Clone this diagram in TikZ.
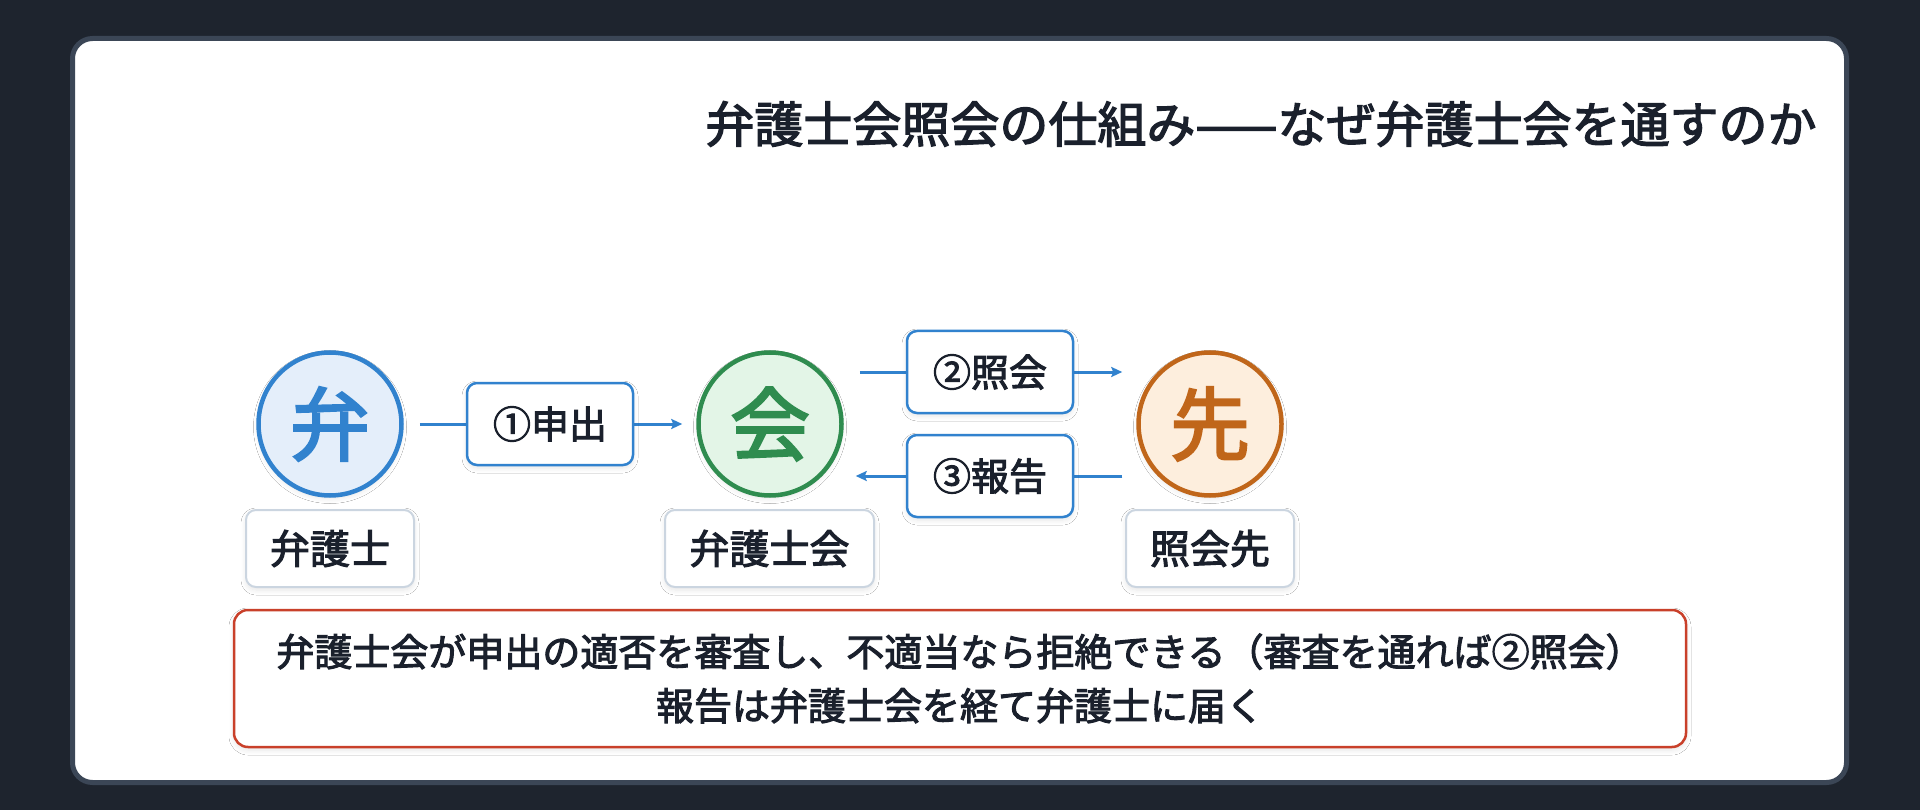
\documentclass[tikz,border=0pt]{standalone}
\usepackage{fontspec}
\setmainfont{Noto Sans CJK JP}[FakeBold=2.6]
\usetikzlibrary{arrows.meta,shadows.blur,calc}
\definecolor{bgdark}{HTML}{1E242E}
\definecolor{cardedge}{HTML}{3B4656}
\definecolor{ink}{HTML}{1A202C}
\definecolor{blueC}{HTML}{3182CE}
\definecolor{blueF}{HTML}{E4EEFA}
\definecolor{greenC}{HTML}{2F8C4F}
\definecolor{greenF}{HTML}{E3F5E7}
\definecolor{orangeC}{HTML}{C0661A}
\definecolor{orangeF}{HTML}{FDEEDD}
\definecolor{grayE}{HTML}{CBD5E0}
\definecolor{redE}{HTML}{C9402A}
\tikzset{
  softshadow/.style={blur shadow={shadow xshift=0pt,shadow yshift=-3pt,shadow blur steps=8,shadow opacity=10,shadow blur radius=5pt}},
  actor/.style={circle,line width=4.5pt,inner sep=0pt,minimum size=143pt,softshadow,
    font=\fontsize{80}{90}\selectfont},
  namebox/.style={draw=grayE,fill=white,line width=2pt,rounded corners=10pt,inner sep=0pt,
    minimum height=77pt,text=ink,font=\fontsize{40}{48}\selectfont,softshadow},
  edgebox/.style={draw=blueC,fill=white,line width=2.5pt,rounded corners=10pt,inner sep=0pt,
    minimum width=166pt,minimum height=82pt,text=ink,font=\fontsize{38}{46}\selectfont,softshadow},
  flow/.style={draw=blueC,line width=3pt,-{Stealth[length=11pt,width=10pt,inset=2pt]}},
}
\begin{document}
\begin{tikzpicture}[x=1pt,y=-1pt]
\useasboundingbox (0,0) rectangle (1920,810);
\fill[bgdark] (0,0) rectangle (1920,810);
\draw[cardedge,fill=white,line width=5pt,rounded corners=20pt] (72.5,38.5) rectangle (1846.5,782.5);

\node[anchor=center,text=ink,font=\fontsize{49}{58}\selectfont] (title) at (1261,124)
  {弁護士会照会の仕組み——なぜ弁護士会を通すのか};

\node[actor,draw=blueC,fill=blueF,text=blueC] (ben) at (330,424) {弁};
\node[actor,draw=greenC,fill=greenF,text=greenC] (kai) at (770,424) {会};
\node[actor,draw=orangeC,fill=orangeF,text=orangeC] (saki) at (1210,424) {先};

\node[namebox,minimum width=168pt] (nben) at (330,548.5) {弁護士};
\node[namebox,minimum width=209pt] (nkai) at (769.5,548.5) {弁護士会};
\node[namebox,minimum width=168pt] (nsaki) at (1210,548.5) {照会先};

\coordinate (y2) at (990,372);
\coordinate (y3) at (990,476);
\draw[flow,shorten <=16pt,shorten >=14pt] (ben) -- (kai);
\draw[flow] ([xshift=16pt]kai.east |- y2) -- ([xshift=-14pt]saki.west |- y2);
\draw[flow] ([xshift=-14pt]saki.west |- y3) -- ([xshift=12pt]kai.east |- y3);

\node[edgebox] (e1) at (550,424) {①申出};
\node[edgebox] (e2) at (990,372) {②照会};
\node[edgebox] (e3) at (990,476) {③報告};

\node[draw=redE,fill=white,line width=2.5pt,rounded corners=14pt,minimum width=1452pt,minimum height=137pt,
  inner sep=0pt,align=center,text=ink,font=\fontsize{38}{54}\selectfont,softshadow] (note) at (960,678.5)
  {弁護士会が申出の適否を審査し、不適当なら拒絶できる（審査を通れば②照会）\\報告は弁護士会を経て弁護士に届く};
\end{tikzpicture}
\end{document}
